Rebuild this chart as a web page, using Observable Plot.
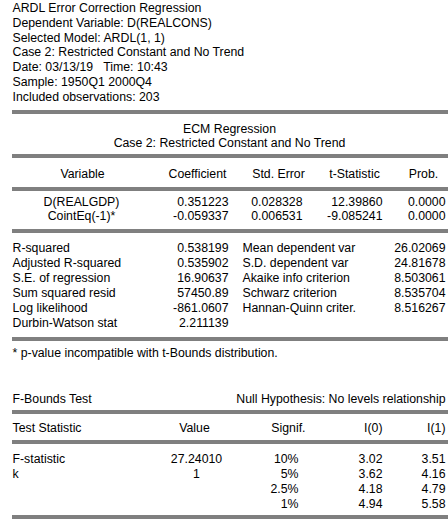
<!DOCTYPE html>
<html>
<head>
<meta charset="utf-8">
<script src="https://cdn.jsdelivr.net/npm/d3@7"></script>
<script src="https://cdn.jsdelivr.net/npm/@observablehq/plot@0.6"></script>
<style>
  html, body { margin: 0; padding: 0; background: #ffffff; }
</style>
</head>
<body>
<div id="chart"></div>
<script>
// ---------------- data ----------------
const headerLines = [
  "ARDL Error Correction Regression",
  "Dependent Variable: D(REALCONS)",
  "Selected Model: ARDL(1, 1)",
  "Case 2: Restricted Constant and No Trend",
  "Date: 03/13/19   Time: 10:43",
  "Sample: 1950Q1 2000Q4",
  "Included observations: 203"
];
const ecmTitle = ["ECM Regression", "Case 2: Restricted Constant and No Trend"];
const coefHeaders = ["Variable", "Coefficient", "Std. Error", "t-Statistic", "Prob."];
const variables = ["D(REALGDP)", "CointEq(-1)*"];
const coefficient = ["0.351223", "-0.059337"];
const stdError = ["0.028328", "0.006531"];
const tStatistic = ["12.39860", "-9.085241"];
const prob = ["0.0000", "0.0000"];
const statLabelsL = ["R-squared", "Adjusted R-squared", "S.E. of regression", "Sum squared resid", "Log likelihood", "Durbin-Watson stat"];
const statValuesL = ["0.538199", "0.535902", "16.90637", "57450.89", "-861.0607", "2.211139"];
const statLabelsR = ["Mean dependent var", "S.D. dependent var", "Akaike info criterion", "Schwarz criterion", "Hannan-Quinn criter."];
const statValuesR = ["26.02069", "24.81678", "8.503061", "8.535704", "8.516267"];
const footnote = "* p-value incompatible with t-Bounds distribution.";
const boundsTitle = "F-Bounds Test";
const boundsNull = "Null Hypothesis: No levels relationship";
const boundsHeaders = ["Test Statistic", "Value", "Signif.", "I(0)", "I(1)"];
const testStats = ["F-statistic", "k"];
const testValues = ["27.24010", "1"];
const signif = ["10%", "5%", "2.5%", "1%"];
const i0 = ["3.02", "3.62", "4.18", "4.94"];
const i1 = ["3.51", "4.16", "4.79", "5.58"];

// ---------------- layout ----------------
const W = 448, H = 527;
const L = 12, R = 448;
const starts = [], middles = [], ends = [];
const put = (arr, x, base, text) => arr.push({x, y: base, text});

headerLines.forEach((t, i) => put(starts, L, 11.5 + 14.8 * i, t));
put(middles, 229, 132, ecmTitle[0]);
put(middles, 229, 146.5, ecmTitle[1]);

const hdrBase = 177.5;
put(middles, 82, hdrBase, coefHeaders[0]);
put(middles, 197, hdrBase, coefHeaders[1]);
put(middles, 278, hdrBase, coefHeaders[2]);
put(middles, 354, hdrBase, coefHeaders[3]);
put(middles, 423, hdrBase, coefHeaders[4]);
variables.forEach((v, i) => {
  const b = 205 + 14.5 * i;
  put(middles, 81, b, v);
  put(ends, 228, b, coefficient[i]);
  put(ends, 302, b, stdError[i]);
  put(ends, 382, b, tStatistic[i]);
  put(ends, 445, b, prob[i]);
});
statLabelsL.forEach((t, i) => {
  const b = 251 + 15 * i;
  put(starts, L, b, t);
  put(ends, 228, b, statValuesL[i]);
  if (i < statLabelsR.length) {
    put(starts, 242, b, statLabelsR[i]);
    put(ends, 445, b, statValuesR[i]);
  }
});
put(starts, L, 356, footnote);
put(starts, L, 402, boundsTitle);
put(ends, 445, 402, boundsNull);
const bh = 431;
put(starts, L, bh, boundsHeaders[0]);
put(middles, 194, bh, boundsHeaders[1]);
put(ends, 305, bh, boundsHeaders[2]);
put(ends, 382, bh, boundsHeaders[3]);
put(ends, 445, bh, boundsHeaders[4]);
testStats.forEach((t, i) => {
  const b = 462 + 15 * i;
  put(starts, L, b, t);
  put(middles, 196, b, testValues[i]);
});
signif.forEach((s, i) => {
  const b = 462 + 15 * i;
  put(ends, 298, b, s);
  put(ends, 382, b, i0[i]);
  put(ends, 445, b, i1[i]);
});

const ruleYs = [110.5, 112.5, 154.5, 156.5, 187.5, 189.5, 229.5, 231.5, 337.5, 339.5, 410.5, 412.5, 440.5, 442.5, 515.5, 517.5];

const textOpts = {x: "x", y: "y", text: "text", lineAnchor: "bottom", fill: "#000000"};

const chart = Plot.plot({
  width: W,
  height: H,
  margin: 0,
  style: {fontFamily: "'Liberation Sans', Arial, sans-serif", fontSize: "12.3px", background: "#ffffff", overflow: "visible"},
  x: {domain: [0, W], range: [0, W], axis: null},
  y: {domain: [0, H], range: [0, H], axis: null},
  marks: [
    Plot.ruleY(ruleYs, {y: d => d, x1: () => L, x2: () => R, stroke: "#000000", strokeWidth: 1}),
    Plot.text(starts, {...textOpts, textAnchor: "start"}),
    Plot.text(middles, {...textOpts, textAnchor: "middle"}),
    Plot.text(ends, {...textOpts, textAnchor: "end"})
  ]
});
document.getElementById("chart").appendChild(chart);
</script>
</body>
</html>
